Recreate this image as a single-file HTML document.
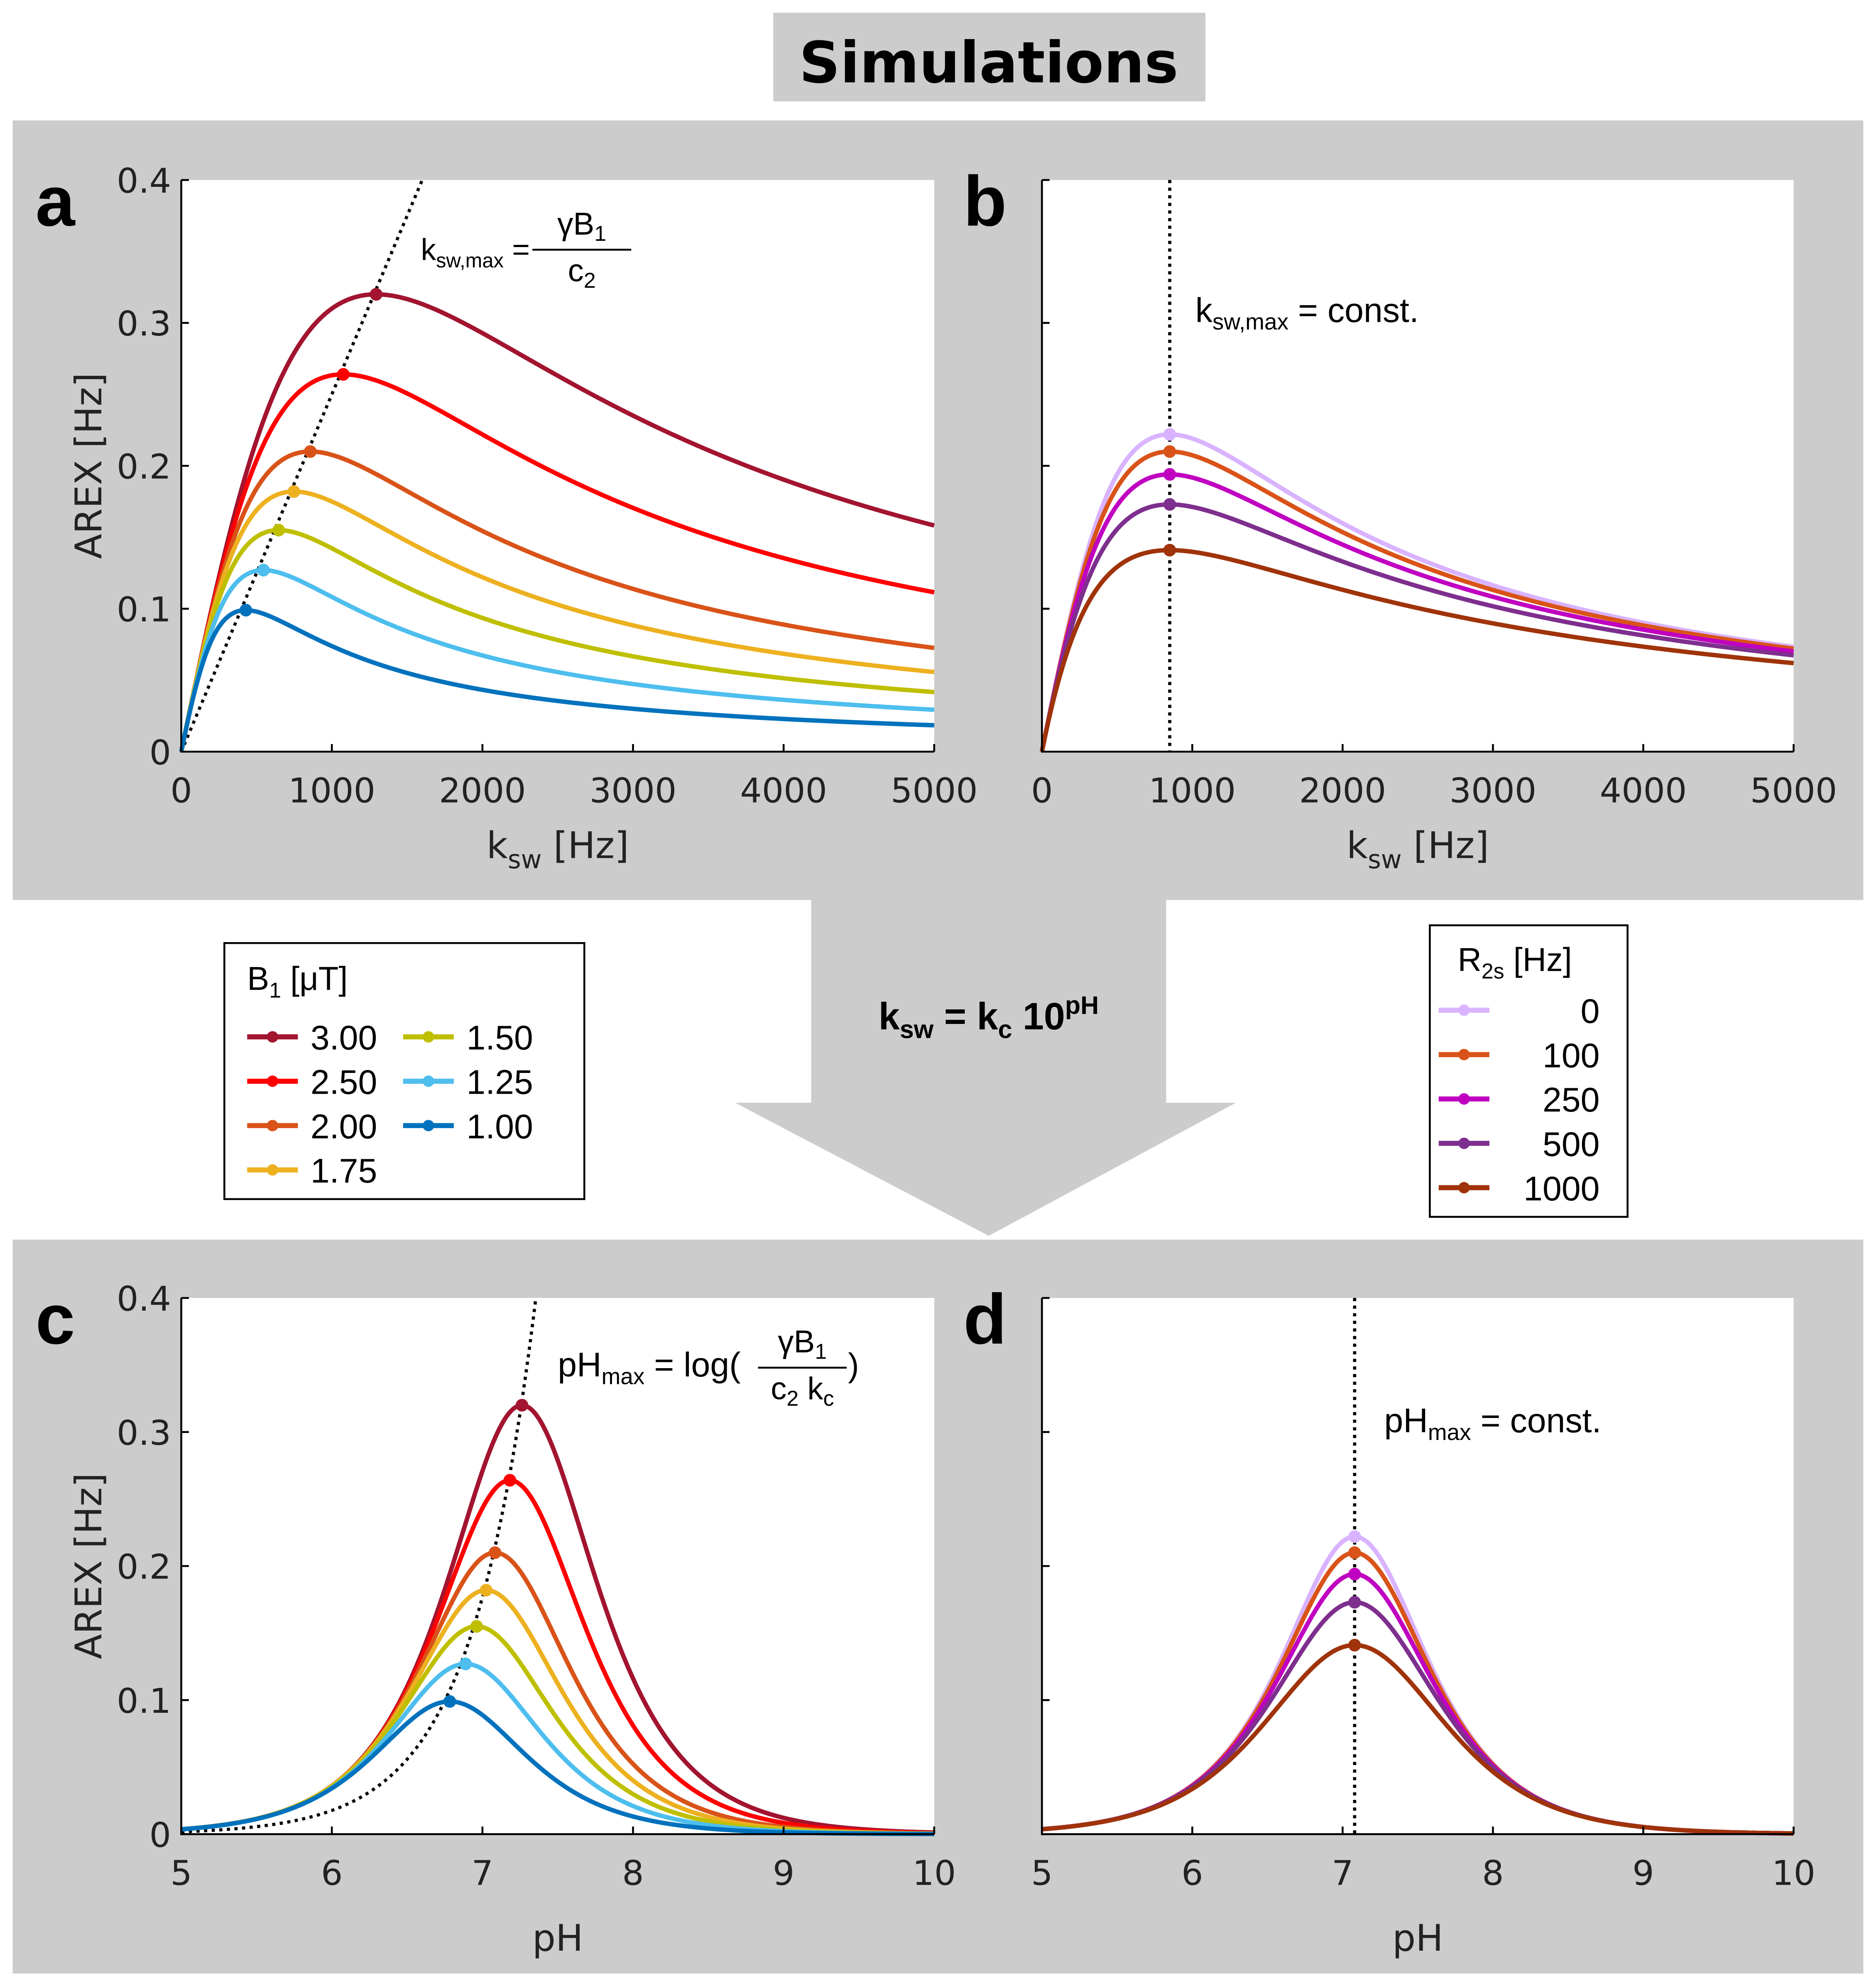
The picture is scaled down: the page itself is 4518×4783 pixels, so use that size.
<!DOCTYPE html>
<html><head><meta charset="utf-8"><style>
html,body{margin:0;padding:0;background:#fff}
svg{display:block}
text{font-family:"Liberation Sans","DejaVu Sans",sans-serif}
.dv{font-family:"DejaVu Sans","Liberation Sans",sans-serif}
</style></head><body>
<svg id="fig" width="4518" height="4783" viewBox="0 0 1480 1566.8" xmlns="http://www.w3.org/2000/svg">
<rect x="610" y="10" width="341" height="70" fill="#cccccc"/>
<text x="780" y="65" text-anchor="middle" font-size="45" font-weight="bold" class="dv">Simulations</text>
<rect x="10" y="95" width="1460" height="615" fill="#cccccc"/>
<rect x="10" y="978" width="1460" height="579" fill="#cccccc"/>
<rect x="640" y="709" width="280" height="162" fill="#cccccc"/>
<polygon points="580,870 975,870 780,975" fill="#cccccc"/>
<text x="780" y="812" text-anchor="middle" font-size="30" font-weight="bold">k<tspan font-size="20" dy="7">sw</tspan><tspan dy="-7"> = k</tspan><tspan font-size="20" dy="7">c</tspan><tspan dy="-7"> 10</tspan><tspan font-size="20" dy="-12">pH</tspan></text>
<g id="plots"></g>
<g>
<rect x="177" y="744" width="284" height="202" fill="#fff" stroke="#000" stroke-width="1.5"/>
<text x="195" y="781" font-size="26">B<tspan font-size="17" dy="6">1</tspan><tspan dy="-6"> [μT]</tspan></text>
<g id="leg1"></g>
</g>
<g>
<rect x="1128" y="730" width="156" height="230" fill="#fff" stroke="#000" stroke-width="1.5"/>
<text x="1150" y="766" font-size="26">R<tspan font-size="17" dy="6">2s</tspan><tspan dy="-6"> [Hz]</tspan></text>
<g id="leg2"></g>
</g>
</svg>
<script>
// Panel a/c data (B1 series)
const b1Labels = ["3.00","2.50","2.00","1.75","1.50","1.25","1.00"];
const b1Colors = ["#a2142f","#ff0000","#d95319","#edb120","#bfbf00","#4dbeee","#0072bd"];
const b1PeakK = [1294,1076,857,748,647,546,429];
const b1PeakA = [0.320,0.264,0.210,0.182,0.155,0.127,0.099];
// Panel b/d data (R2s series)
const r2sLabels = ["0","100","250","500","1000"];
const r2sValues = [0,100,250,500,1000];
const r2sColors = ["#d9b3ff","#d95319","#c000c0","#7e2f8e","#a0330a"];
const r2sPeakA = [0.222,0.210,0.194,0.173,0.141];
const r2sPeakK = 850;
const kc = 7.07e-5;
const dottedSlope = 2.5e-4;
const ticksY = ["0","0.1","0.2","0.3","0.4"];
const ticksK = [0,1000,2000,3000,4000,5000];
const ticksPH = [5,6,7,8,9,10];

const NS="http://www.w3.org/2000/svg";
const plots=document.getElementById('plots');
function mk(tag,attrs,parent){const e=document.createElementNS(NS,tag);for(const k in attrs)e.setAttribute(k,attrs[k]);(parent||plots).appendChild(e);return e;}
function model(k,k0,A,b){const C=A*(2*k0+b);return C*k/(k*k+b*k+k0*k0);}

function panel(cfg){
  const g=mk('g',{});
  
  
  const X=v=>cfg.x0+(v-cfg.xmin)/(cfg.xmax-cfg.xmin)*(cfg.x1-cfg.x0);
  const Y=v=>cfg.y1-v/0.4*(cfg.y1-cfg.y0);
  const bg=mk('rect',{x:cfg.x0,y:cfg.y0,width:cfg.x1-cfg.x0,height:cfg.y1-cfg.y0,fill:'#fff'},g);
  
  
  const toK=cfg.ph?(p=>kc*Math.pow(10,p)):(k=>k);
  const xs=[];for(let i=0;i<=400;i++)xs.push(cfg.xmin+(cfg.xmax-cfg.xmin)*i/400);
  if(cfg.kind==='b1'){
    let pts=[];for(const x of xs){const a=dottedSlope*toK(x);if(a>0.4){break;}pts.push(X(x).toFixed(2)+','+Y(a).toFixed(2));}
    const xe=cfg.ph?Math.log10(0.4/dottedSlope/kc):0.4/dottedSlope;pts.push(X(xe).toFixed(2)+','+Y(0.4));
    const d=mk('polyline',{points:pts.join(' '),fill:'none',stroke:'#000','stroke-width':2.5,'stroke-dasharray':'2.5 3.5'},g);
    
    
  } else {
    const xv=cfg.ph?Math.log10(r2sPeakK/kc):r2sPeakK;
    const d=mk('line',{x1:X(xv),x2:X(xv),y1:cfg.y0,y2:cfg.y1,stroke:'#000','stroke-width':2.5,'stroke-dasharray':'2.5 3.5'},g);
    
    
  }
  const n=cfg.kind==='b1'?b1Labels.length:r2sLabels.length;
  for(let s=0;s<n;s++){
    const k0=cfg.kind==='b1'?b1PeakK[s]:r2sPeakK;
    const A=cfg.kind==='b1'?b1PeakA[s]:r2sPeakA[s];
    const b=cfg.kind==='b1'?100:r2sValues[s];
    const col=cfg.kind==='b1'?b1Colors[s]:r2sColors[s];
    const pts=xs.map(x=>X(x).toFixed(2)+','+Y(model(toK(x),k0,A,b)).toFixed(2)).join(' ');
    const l=mk('polyline',{points:pts,fill:'none',stroke:col,'stroke-width':3.5},g);
    
    
    const xp=cfg.ph?Math.log10(k0/kc):k0;
    const c=mk('circle',{cx:X(xp),cy:Y(A),r:5,fill:col},g);
    
    
  }
  const ax=mk('path',{d:`M${cfg.x0},${cfg.y0}V${cfg.y1}H${cfg.x1}`,fill:'none',stroke:'#000','stroke-width':1.5},g);
  
  
  ticksY.forEach((t,i)=>{
    const y=Y(parseFloat(t));
    mk('line',{x1:cfg.x0,x2:cfg.x0+6,y1:y,y2:y,stroke:'#000','stroke-width':1.5},g);
    if(cfg.ylabels){const tx=mk('text',{x:cfg.x0-8,y:y+10,'text-anchor':'end','font-size':27,fill:'#222',class:'dv'},g);tx.textContent=t;
      
      }
  });
  const tk=cfg.ph?ticksPH:ticksK;
  tk.forEach(t=>{
    const x=X(t);
    mk('line',{x1:x,x2:x,y1:cfg.y1,y2:cfg.y1-6,stroke:'#000','stroke-width':1.5},g);
    const tx=mk('text',{x:x,y:cfg.y1+40,'text-anchor':'middle','font-size':27,fill:'#222',class:'dv'},g);tx.textContent=t;
    
    
  });
  const xl=mk('text',{x:(cfg.x0+cfg.x1)/2,y:cfg.y1+(cfg.ph?92:84),'text-anchor':'middle','font-size':29,fill:'#222',class:'dv'},g);
  xl.innerHTML=cfg.ph?'pH':'k<tspan font-size="20" dy="8">sw</tspan><tspan dy="-8"> [Hz]</tspan>';
  
  
  if(cfg.ylabels){const yl=mk('text',{x:0,y:0,'text-anchor':'middle','font-size':29,fill:'#222',class:'dv',transform:`translate(80,${(cfg.y0+cfg.y1)/2}) rotate(-90)`},g);yl.textContent='AREX [Hz]';
    
    }
  const lt=mk('text',{x:cfg.lx,y:cfg.y0+36,'font-size':56,'font-weight':'bold'},g);lt.textContent=cfg.letter;
  
  
  const an=mk('text',{x:cfg.ax,y:cfg.ay,'font-size':cfg.afs||26},g);an.innerHTML=cfg.ann;
  
  
  if(cfg.fx){
    const f0=cfg.fx, f1=f0+cfg.fw;
    const fl=mk('line',{x1:f0,x2:f1,y1:cfg.fy,y2:cfg.fy,stroke:'#000','stroke-width':1.5},g);
    
    
    const nu=mk('text',{x:(f0+f1)/2,y:cfg.fy-12,'font-size':25,'text-anchor':'middle'},g);nu.innerHTML='γB<tspan font-size="17" dy="5">1</tspan>';
    
    
    const de=mk('text',{x:(f0+f1)/2,y:cfg.fy+25,'font-size':25,'text-anchor':'middle'},g);de.innerHTML=cfg.den;
    
    
    if(cfg.close){const cl=mk('text',{x:f1+1,y:cfg.ay,'font-size':26},g);cl.textContent=')';
      
      }
  }
}
panel({name:'panel-a',letter:'a',lx:28,kind:'b1',ph:false,x0:143,x1:737,y0:142,y1:593,xmin:0,xmax:5000,ylabels:true,afs:24,
  ax:332,ay:205,ann:'k<tspan font-size="16" dy="6">sw,max</tspan><tspan dy="-6"> =</tspan>',fx:420,fw:78,fy:197,den:'c<tspan font-size="17" dy="5">2</tspan>'});
panel({name:'panel-b',letter:'b',lx:760,kind:'r2s',ph:false,x0:822,x1:1415,y0:142,y1:593,xmin:0,xmax:5000,ylabels:false,afs:27,
  ax:943,ay:254,ann:'k<tspan font-size="18" dy="6">sw,max</tspan><tspan dy="-6"> = const.</tspan>'});
panel({name:'panel-c',letter:'c',lx:28,kind:'b1',ph:true,x0:143,x1:737,y0:1024,y1:1447,xmin:5,xmax:10,ylabels:true,afs:27,
  ax:440,ay:1086,ann:'pH<tspan font-size="18" dy="6">max</tspan><tspan dy="-6"> = log(</tspan>',fx:598,fw:70,fy:1079,den:'c<tspan font-size="17" dy="5">2</tspan><tspan dy="-5"> k</tspan><tspan font-size="17" dy="5">c</tspan>',close:true});
panel({name:'panel-d',letter:'d',lx:760,kind:'r2s',ph:true,x0:822,x1:1415,y0:1024,y1:1447,xmin:5,xmax:10,ylabels:false,afs:27,
  ax:1092,ay:1130,ann:'pH<tspan font-size="18" dy="6">max</tspan><tspan dy="-6"> = const.</tspan>'});

const leg1=document.getElementById('leg1');
b1Labels.forEach((t,i)=>{
  const col=i<4?0:1,row=i<4?i:i-4;
  const x=col?318:195,y=818+row*35;
  const l=mk('line',{x1:x,x2:x+40,y1:y,y2:y,stroke:b1Colors[i],'stroke-width':4},leg1);
  
  
  mk('circle',{cx:x+20,cy:y,r:4.5,fill:b1Colors[i]},leg1);
  const tx=mk('text',{x:x+50,y:y+10,'font-size':27},leg1);tx.textContent=t;
  
  
});
const leg2=document.getElementById('leg2');
r2sLabels.forEach((t,i)=>{
  const y=797+i*35;
  const l=mk('line',{x1:1135,x2:1175,y1:y,y2:y,stroke:r2sColors[i],'stroke-width':4},leg2);
  
  
  mk('circle',{cx:1155,cy:y,r:4.5,fill:r2sColors[i]},leg2);
  const tx=mk('text',{x:1262,y:y+10,'font-size':27,'text-anchor':'end'},leg2);tx.textContent=t;
  
  
});
</script>
</body></html>
